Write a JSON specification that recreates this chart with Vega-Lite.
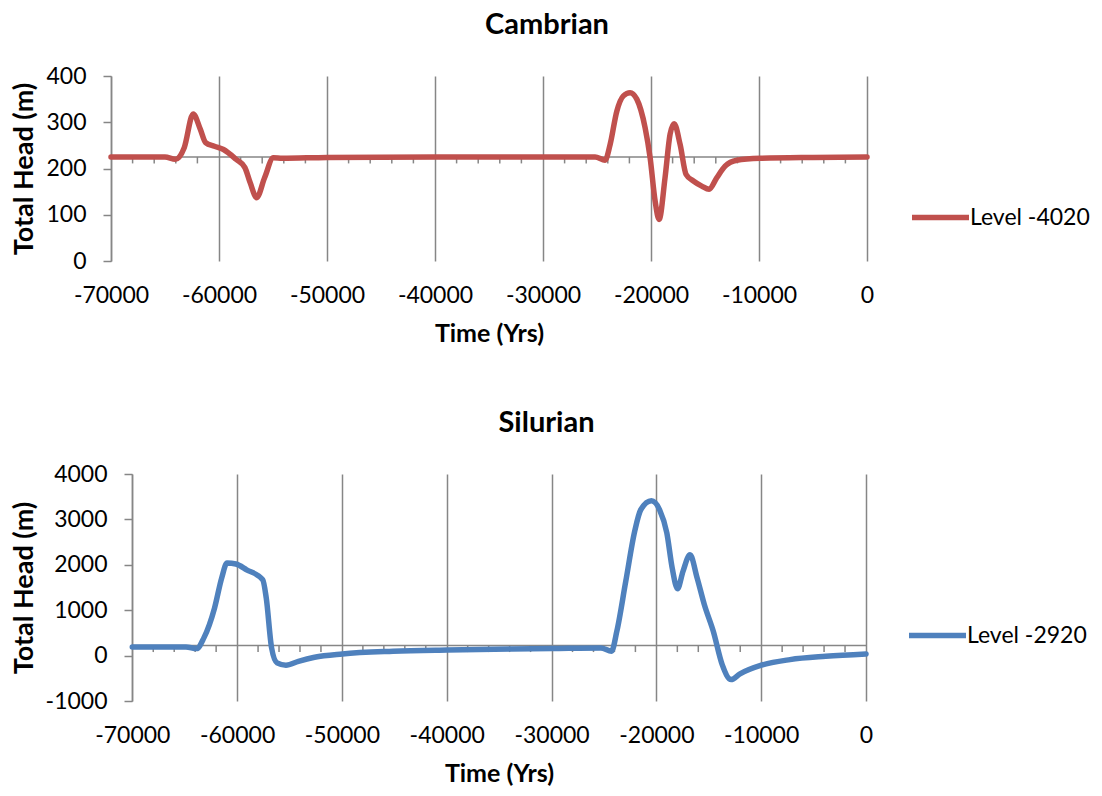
{
  "$schema": "https://vega.github.io/schema/vega-lite/v6.json",
  "background": "white",
  "padding": {"left": 10, "top": 11, "right": 5, "bottom": 5},
  "datasets": {
    "cambrian": [
      {"time": -70000, "head": 225, "series": "Level -4020"},
      {"time": -67000, "head": 225, "series": "Level -4020"},
      {"time": -65000, "head": 225, "series": "Level -4020"},
      {"time": -64040, "head": 220, "series": "Level -4020"},
      {"time": -63220, "head": 245, "series": "Level -4020"},
      {"time": -62390, "head": 318, "series": "Level -4020"},
      {"time": -61735, "head": 285, "series": "Level -4020"},
      {"time": -61240, "head": 256, "series": "Level -4020"},
      {"time": -60430, "head": 248, "series": "Level -4020"},
      {"time": -59585, "head": 241, "series": "Level -4020"},
      {"time": -58430, "head": 220, "series": "Level -4020"},
      {"time": -57600, "head": 202, "series": "Level -4020"},
      {"time": -57110, "head": 169, "series": "Level -4020"},
      {"time": -56510, "head": 137, "series": "Level -4020"},
      {"time": -55780, "head": 180, "series": "Level -4020"},
      {"time": -54960, "head": 223, "series": "Level -4020"},
      {"time": -54140, "head": 222, "series": "Level -4020"},
      {"time": -50000, "head": 224, "series": "Level -4020"},
      {"time": -40000, "head": 225, "series": "Level -4020"},
      {"time": -30000, "head": 225, "series": "Level -4020"},
      {"time": -25175, "head": 225, "series": "Level -4020"},
      {"time": -24250, "head": 218, "series": "Level -4020"},
      {"time": -23785, "head": 252, "series": "Level -4020"},
      {"time": -23165, "head": 324, "series": "Level -4020"},
      {"time": -22555, "head": 357, "series": "Level -4020"},
      {"time": -21935, "head": 364, "series": "Level -4020"},
      {"time": -21315, "head": 350, "series": "Level -4020"},
      {"time": -20545, "head": 288, "series": "Level -4020"},
      {"time": -20080, "head": 223, "series": "Level -4020"},
      {"time": -19620, "head": 130, "series": "Level -4020"},
      {"time": -19250, "head": 90, "series": "Level -4020"},
      {"time": -18700, "head": 180, "series": "Level -4020"},
      {"time": -18235, "head": 274, "series": "Level -4020"},
      {"time": -17860, "head": 297, "series": "Level -4020"},
      {"time": -17305, "head": 252, "series": "Level -4020"},
      {"time": -16750, "head": 187, "series": "Level -4020"},
      {"time": -16075, "head": 173, "series": "Level -4020"},
      {"time": -15300, "head": 162, "series": "Level -4020"},
      {"time": -14620, "head": 155, "series": "Level -4020"},
      {"time": -13910, "head": 180, "series": "Level -4020"},
      {"time": -13140, "head": 205, "series": "Level -4020"},
      {"time": -12060, "head": 218, "series": "Level -4020"},
      {"time": -9900, "head": 222, "series": "Level -4020"},
      {"time": -5000, "head": 224, "series": "Level -4020"},
      {"time": 0, "head": 225, "series": "Level -4020"}
    ],
    "silurian": [
      {"time": -70000, "head": 190, "series": "Level -2920"},
      {"time": -67000, "head": 190, "series": "Level -2920"},
      {"time": -64880, "head": 190, "series": "Level -2920"},
      {"time": -63860, "head": 155, "series": "Level -2920"},
      {"time": -63170, "head": 390, "series": "Level -2920"},
      {"time": -62150, "head": 1050, "series": "Level -2920"},
      {"time": -61470, "head": 1710, "series": "Level -2920"},
      {"time": -60960, "head": 2040, "series": "Level -2920"},
      {"time": -60110, "head": 2017, "series": "Level -2920"},
      {"time": -59090, "head": 1890, "series": "Level -2920"},
      {"time": -57555, "head": 1670, "series": "Level -2920"},
      {"time": -57220, "head": 1270, "series": "Level -2920"},
      {"time": -56710, "head": 170, "series": "Level -2920"},
      {"time": -56190, "head": -160, "series": "Level -2920"},
      {"time": -55340, "head": -212, "series": "Level -2920"},
      {"time": -54150, "head": -125, "series": "Level -2920"},
      {"time": -52610, "head": -36, "series": "Level -2920"},
      {"time": -49960, "head": 37, "series": "Level -2920"},
      {"time": -45120, "head": 96, "series": "Level -2920"},
      {"time": -39950, "head": 125, "series": "Level -2920"},
      {"time": -29950, "head": 155, "series": "Level -2920"},
      {"time": -25300, "head": 170, "series": "Level -2920"},
      {"time": -24280, "head": 96, "series": "Level -2920"},
      {"time": -23770, "head": 537, "series": "Level -2920"},
      {"time": -22920, "head": 1636, "series": "Level -2920"},
      {"time": -22070, "head": 2736, "series": "Level -2920"},
      {"time": -21490, "head": 3212, "series": "Level -2920"},
      {"time": -20470, "head": 3410, "series": "Level -2920"},
      {"time": -19690, "head": 3212, "series": "Level -2920"},
      {"time": -19000, "head": 2700, "series": "Level -2920"},
      {"time": -18490, "head": 1930, "series": "Level -2920"},
      {"time": -17980, "head": 1475, "series": "Level -2920"},
      {"time": -17460, "head": 1856, "series": "Level -2920"},
      {"time": -16790, "head": 2222, "series": "Level -2920"},
      {"time": -16110, "head": 1710, "series": "Level -2920"},
      {"time": -15420, "head": 1120, "series": "Level -2920"},
      {"time": -14570, "head": 537, "series": "Level -2920"},
      {"time": -13720, "head": -198, "series": "Level -2920"},
      {"time": -12870, "head": -528, "series": "Level -2920"},
      {"time": -12020, "head": -403, "series": "Level -2920"},
      {"time": -9980, "head": -212, "series": "Level -2920"},
      {"time": -7250, "head": -88, "series": "Level -2920"},
      {"time": -3840, "head": -15, "series": "Level -2920"},
      {"time": 0, "head": 37, "series": "Level -2920"}
    ],
    "minorTicks": [
      {"time": -68000}, {"time": -66000}, {"time": -64000}, {"time": -62000},
      {"time": -58000}, {"time": -56000}, {"time": -54000}, {"time": -52000},
      {"time": -48000}, {"time": -46000}, {"time": -44000}, {"time": -42000},
      {"time": -38000}, {"time": -36000}, {"time": -34000}, {"time": -32000},
      {"time": -28000}, {"time": -26000}, {"time": -24000}, {"time": -22000},
      {"time": -18000}, {"time": -16000}, {"time": -14000}, {"time": -12000},
      {"time": -8000}, {"time": -6000}, {"time": -4000}, {"time": -2000}
    ]
  },
  "config": {
    "font": "Lato",
    "view": {"stroke": null},
    "title": {"font": "Lato", "fontSize": 29, "fontWeight": "bold", "color": "black", "frame": "group", "anchor": "middle", "offset": 25, "dx": 58},
    "axis": {
      "labelFont": "Lato", "labelFontSize": 23, "labelColor": "black",
      "titleFont": "Lato", "titleFontSize": 25, "titleFontWeight": "bold", "titleColor": "black",
      "domainColor": "#868686", "tickColor": "#868686", "gridColor": "#868686",
      "domainWidth": 1.5, "tickWidth": 1.5, "gridWidth": 1.5,
      "labelFlush": false, "labelOverlap": false,
      "labelExpr": "datum.value < 0 ? '-' + (-datum.value) : '' + datum.value"
    },
    "axisY": {"titleFontSize": 27},
    "legend": {"labelFont": "Lato", "labelFontSize": 23, "labelColor": "black", "padding": 0}
  },
  "vconcat": [
    {
      "title": "Cambrian",
      "width": 756,
      "height": 185,
      "layer": [
        {
          "data": {"values": [{}]},
          "mark": {"type": "rule", "color": "#868686", "strokeWidth": 1.5},
          "encoding": {
            "x": {"datum": -70000, "type": "quantitative", "title": "Time (Yrs)"},
            "x2": {"datum": 0},
            "y": {"datum": 225, "type": "quantitative", "title": "Total Head (m)"}
          }
        },
        {
          "data": {"name": "minorTicks"},
          "mark": {"type": "rule", "color": "#868686", "strokeWidth": 1.5},
          "encoding": {
            "x": {"field": "time", "type": "quantitative", "title": "Time (Yrs)"},
            "y": {"datum": 225, "type": "quantitative", "title": "Total Head (m)"},
            "y2": {"datum": 211}
          }
        },
        {
          "data": {"name": "cambrian"},
          "mark": {"type": "line", "interpolate": "monotone", "strokeWidth": 5.5, "strokeCap": "round", "strokeJoin": "round"},
          "encoding": {
            "x": {
              "field": "time", "type": "quantitative", "title": "Time (Yrs)",
              "scale": {"domain": [-70000, 0], "nice": false, "zero": false},
              "axis": {"values": [-70000, -60000, -50000, -40000, -30000, -20000, -10000, 0], "grid": true, "domain": false, "ticks": false, "tickSize": 0, "labelPadding": 23, "titlePadding": 14}
            },
            "y": {
              "field": "head", "type": "quantitative", "title": "Total Head (m)",
              "scale": {"domain": [0, 400], "nice": false},
              "axis": {"values": [0, 100, 200, 300, 400], "grid": false, "tickSize": 8, "labelPadding": 17, "titlePadding": 7}
            },
            "color": {
              "field": "series", "type": "nominal",
              "scale": {"domain": ["Level -4020"], "range": ["#C0504D"]},
              "legend": {"title": null, "orient": "none", "legendX": 798, "legendY": 110, "symbolType": "stroke", "symbolSize": 3249, "symbolStrokeWidth": 5.5, "labelOffset": -2}
            }
          }
        }
      ]
    },
    {
      "title": "Silurian",
      "width": 755,
      "height": 227,
      "layer": [
        {
          "data": {"values": [{}]},
          "mark": {"type": "rule", "color": "#868686", "strokeWidth": 1.5},
          "encoding": {
            "x": {"datum": -70000, "type": "quantitative", "title": "Time (Yrs)"},
            "x2": {"datum": 0},
            "y": {"datum": 225, "type": "quantitative", "title": "Total Head (m)"}
          }
        },
        {
          "data": {"name": "minorTicks"},
          "mark": {"type": "rule", "color": "#868686", "strokeWidth": 1.5},
          "encoding": {
            "x": {"field": "time", "type": "quantitative", "title": "Time (Yrs)"},
            "y": {"datum": 225, "type": "quantitative", "title": "Total Head (m)"},
            "y2": {"datum": 78}
          }
        },
        {
          "data": {"name": "silurian"},
          "mark": {"type": "line", "interpolate": "monotone", "strokeWidth": 5.5, "strokeCap": "round", "strokeJoin": "round"},
          "encoding": {
            "x": {
              "field": "time", "type": "quantitative", "title": "Time (Yrs)",
              "scale": {"domain": [-72031, 0], "nice": false, "zero": false},
              "axis": {"values": [-70000, -60000, -50000, -40000, -30000, -20000, -10000, 0], "grid": true, "domain": false, "ticks": false, "tickSize": 0, "labelPadding": 23, "titlePadding": 14, "titleX": 388}
            },
            "y": {
              "field": "head", "type": "quantitative", "title": "Total Head (m)",
              "scale": {"domain": [-1000, 4000], "nice": false},
              "axis": {"values": [-1000, 0, 1000, 2000, 3000, 4000], "grid": false, "tickSize": 8, "labelPadding": 17, "titlePadding": 7, "offset": -21}
            },
            "color": {
              "field": "series", "type": "nominal",
              "scale": {"domain": ["Level -2920"], "range": ["#4F81BD"]},
              "legend": {"title": null, "orient": "none", "legendX": 795, "legendY": 130, "symbolType": "stroke", "symbolSize": 3249, "symbolStrokeWidth": 5.5, "labelOffset": -2}
            }
          }
        }
      ]
    }
  ],
  "spacing": 63,
  "resolve": {"scale": {"color": "independent", "x": "independent", "y": "independent"}}
}
